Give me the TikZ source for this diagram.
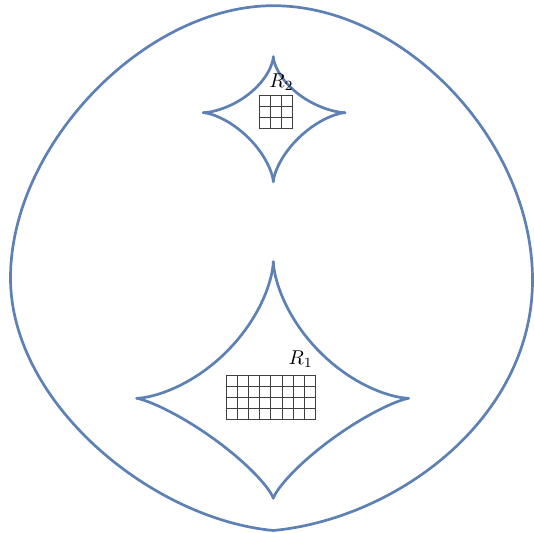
\documentclass[tikz,border=0pt]{standalone}
\usepackage{tikz}
\definecolor{mblue}{rgb}{0.368417,0.506779,0.709798}
\newcommand\qarc[5]{%
  \draw[caustic] ({#1+(#3)},#2) -- plot[domain=1:89,samples=50,variable=\t]
    ({#1+(#3)*pw(cos(\t),#5)},{#2+(#4)*pw(sin(\t),#5)}) -- (#1,{#2+(#4)});}
\begin{document}
\begin{tikzpicture}[x=0.5pt,y=-0.5pt,
  declare function={pw(\u,\e)=exp(\e*ln(\u));},
  caustic/.style={draw=mblue,line width=1.35pt,line cap=round,line join=round},
  cell/.style={draw=black!75,line width=0.45pt}]
\useasboundingbox (0,0) rectangle (534,533);
% outer caustic
\coordinate (top) at (273.3,5.7);
\coordinate (rt) at (532.5,280);
\coordinate (bot) at (273.3,530.5);
\coordinate (lf) at (10.5,278);
\draw[caustic] (top) .. controls (403.3,5.7) and (532.5,140) .. (rt)
  .. controls (532.5,420) and (395,519) .. (bot)
  .. controls (151.6,519) and (10.5,403) .. (lf)
  .. controls (10.5,145) and (145,5.7) .. (top) -- cycle;
% lower astroid
\qarc{273.3}{398.3}{-136.6}{-136.6}{3.1}
\qarc{273.3}{398.3}{135.2}{-136.6}{3.1}
\qarc{273.3}{398.3}{-136.6}{100}{2.5}
\qarc{273.3}{398.3}{135.2}{100}{2.5}
% upper astroid
\qarc{273.3}{112.7}{-70}{-56}{3.1}
\qarc{273.3}{112.7}{71.7}{-56}{3.1}
\qarc{273.3}{112.7}{-70}{69}{2.95}
\qarc{273.3}{112.7}{71.7}{69}{2.95}
% grids
\foreach \i in {0,...,3} \draw[cell] ({259+11.3*\i},95) -- ({259+11.3*\i},128.9);
\foreach \j in {0,...,3} \draw[cell] (259,{95+11.3*\j}) -- (292.9,{95+11.3*\j});
\foreach \i in {0,...,8} \draw[cell] ({226+11.2*\i},375) -- ({226+11.2*\i},419.8);
\foreach \j in {0,...,4} \draw[cell] (226,{375+11.2*\j}) -- (315.6,{375+11.2*\j});
% labels
\node[anchor=base west,inner sep=0pt] (r2) at (269,87.3) {$R_2$};
\node[anchor=base west,inner sep=0pt] (r1) at (288.3,364.3) {$R_1$};
\end{tikzpicture}
\end{document}
